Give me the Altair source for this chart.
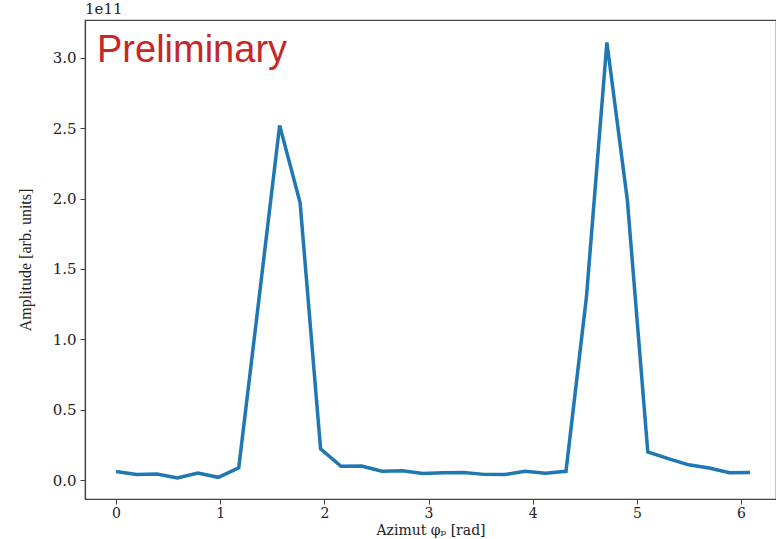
import altair as alt
import pandas as pd
import numpy as np

# Azimuth bins (32 equal bins over 2*pi)
n_bins = 32
azimuth = [i * 2 * np.pi / n_bins for i in range(n_bins)]
# Amplitude in units of 1e11
amplitude = [0.060, 0.040, 0.043, 0.014, 0.050, 0.019, 0.087, 1.30,
             2.52, 1.97, 0.222, 0.098, 0.100, 0.062, 0.065, 0.047,
             0.051, 0.054, 0.040, 0.039, 0.062, 0.048, 0.062, 1.30,
             3.11, 1.99, 0.200, 0.152, 0.108, 0.085, 0.052, 0.054]

df = pd.DataFrame({"azimuth": azimuth, "amplitude": amplitude})

serif = "DejaVu Serif"

line = alt.Chart(df).mark_line(color="#1f77b4", strokeWidth=3.5, clip=True).encode(
    x=alt.X("azimuth:Q",
            scale=alt.Scale(domain=[-0.298, 6.336], nice=False, zero=False),
            axis=alt.Axis(values=[0, 1, 2, 3, 4, 5, 6], format="d",
                          title="Azimut φₚ [rad]", grid=False,
                          labelFont=serif, labelFontSize=14, labelColor="#222",
                          titleFont=serif, titleFontSize=14, titleFontWeight="normal",
                          titleColor="#222", titleY=35, titleBaseline="alphabetic",
                          domainColor="#444", domainWidth=1.2,
                          tickColor="#444", tickSize=5, labelPadding=2)),
    y=alt.Y("amplitude:Q",
            scale=alt.Scale(domain=[-0.135, 3.269], nice=False, zero=False),
            axis=alt.Axis(values=[0, 0.5, 1.0, 1.5, 2.0, 2.5, 3.0], format=".1f",
                          title="Amplitude [arb. units]", grid=False,
                          labelFont=serif, labelFontSize=15, labelColor="#222",
                          titleFont="Liberation Serif", titleFontSize=16,
                          titleFontWeight="normal", titleColor="#222", titleX=-60,
                          titleBaseline="middle",
                          domainColor="#444", domainWidth=1.2,
                          tickColor="#444", tickSize=5, labelPadding=4)),
)

prelim = alt.Chart(pd.DataFrame({"t": ["Preliminary"]})).mark_text(
    font="Liberation Sans", fontSize=38, color="#c62828", align="left", baseline="alphabetic"
).encode(x=alt.value(12), y=alt.value(42), text="t:N")

exp_label = alt.Chart(pd.DataFrame({"t": ["1e11"]})).mark_text(
    font=serif, fontSize=15, color="#222", align="left", baseline="bottom"
).encode(x=alt.value(0), y=alt.value(-3), text="t:N")

chart = alt.layer(line, prelim, exp_label).properties(
    width=691, height=479,
    autosize=alt.AutoSizeParams(type="none"),
    padding={"left": 85, "top": 20, "right": 0, "bottom": 40},
).configure_view(stroke="#444", strokeWidth=1.2)

chart.save("out.html", embed_options={"renderer": "svg", "actions": False})
